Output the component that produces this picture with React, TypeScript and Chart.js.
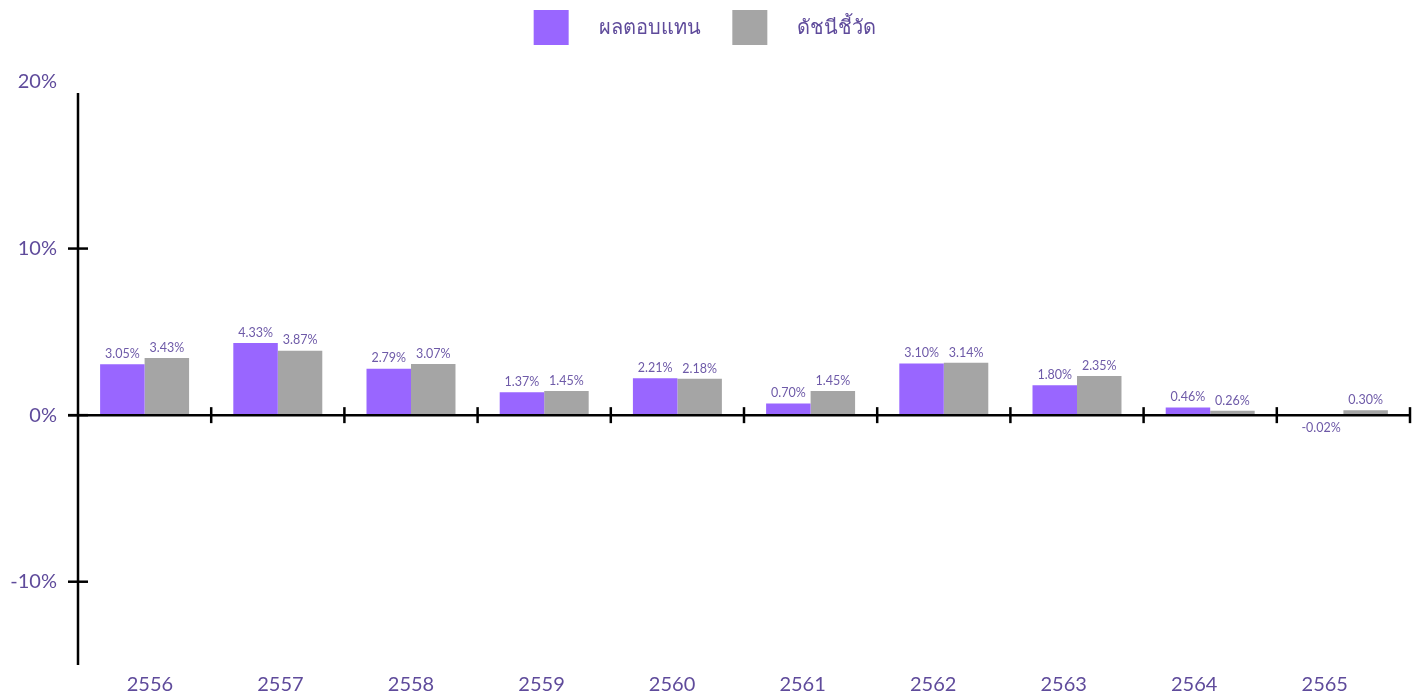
import React, { useEffect, useRef } from 'react';
import { Chart, registerables } from 'chart.js';

Chart.register(...registerables);

if (typeof document !== 'undefined') {
  document.body.style.margin = '0';
  document.body.style.overflow = 'hidden';
}

const years = ['2556', '2557', '2558', '2559', '2560', '2561', '2562', '2563', '2564', '2565'];
const returnValues = [3.05, 4.33, 2.79, 1.37, 2.21, 0.7, 3.1, 1.8, 0.46, -0.02];
const benchmarkValues = [3.43, 3.87, 3.07, 1.45, 2.18, 1.45, 3.14, 2.35, 0.26, 0.3];
const seriesNames = ['ผลตอบแทน', 'ดัชนีชี้วัด'];
const yTickValues = [-10, 0, 10, 20];

const FONT = "Lato, 'Noto Sans', 'DejaVu Sans', sans-serif";
const TEXT = '#5f4b9b';
const LABEL = '#6e5aa8';
const PURPLE = '#9966ff';
const GRAY = '#a5a5a5';

const layoutPlugin = {
  id: 'layoutTweaks',
  beforeLayout(chart: any) {
    const lg = chart.legend;
    if (lg && !lg.__patched) {
      const origFit = lg.fit.bind(lg);
      lg.fit = function () {
        origFit();
        this.height += 27;
      };
      lg.__patched = true;
    }
  },
  afterLayout(chart: any) {
    const x = chart.scales.x;
    const x2 = chart.scales.x2;
    if (!x || !x2) return;
    const catW = (x.right - x.left) / years.length;
    x2.left = x.left + catW * 0.54;
    x2.right = x.right - catW * 0.64;
    x2.configure();
    x2._labelItems = null;
  },
};

const axesPlugin = {
  id: 'customAxes',
  afterDatasetsDraw(chart: any) {
    const { ctx, chartArea, scales } = chart;
    const x = scales.x;
    const y = scales.y;
    const zero = y.getPixelForValue(0);
    ctx.save();
    ctx.strokeStyle = '#000';
    ctx.lineWidth = 2.5;
    ctx.beginPath();
    ctx.moveTo(chartArea.left, chartArea.top + 11);
    ctx.lineTo(chartArea.left, chartArea.bottom);
    ctx.stroke();
    ctx.beginPath();
    ctx.moveTo(chartArea.left - 10, zero);
    ctx.lineTo(chartArea.right, zero);
    ctx.stroke();
    yTickValues.forEach((v) => {
      if (v >= 20) return;
      const py = y.getPixelForValue(v);
      ctx.beginPath();
      ctx.moveTo(chartArea.left - 10, py);
      ctx.lineTo(chartArea.left + 10, py);
      ctx.stroke();
    });
    const catW = (x.right - x.left) / years.length;
    for (let i = 1; i <= years.length; i++) {
      const px = x.getPixelForValue(i - 1) + catW / 2;
      ctx.beginPath();
      ctx.moveTo(px, zero - 8);
      ctx.lineTo(px, zero + 8);
      ctx.stroke();
    }
    ctx.restore();
  },
};

const valueLabelPlugin = {
  id: 'valueLabels',
  afterDraw(chart: any) {
    const { ctx } = chart;
    ctx.save();
    ctx.font = `12.5px ${FONT}`;
    ctx.fillStyle = LABEL;
    ctx.textAlign = 'center';
    chart.data.datasets.forEach((ds: any, di: number) => {
      const meta = chart.getDatasetMeta(di);
      meta.data.forEach((el: any, i: number) => {
        const v = ds.data[i] as number;
        const text = v.toFixed(2) + '%';
        if (v >= 0) {
          ctx.textBaseline = 'bottom';
          ctx.fillText(text, el.x, el.y - 4);
        } else {
          ctx.textBaseline = 'top';
          ctx.fillText(text, el.x, el.y + 6);
        }
      });
    });
    ctx.restore();
  },
};

export default function App() {
  const canvasRef = useRef<HTMLCanvasElement | null>(null);

  useEffect(() => {
    const canvas = canvasRef.current;
    if (!canvas) return;
    const chart = new Chart(canvas, {
      type: 'bar',
      data: {
        labels: years,
        datasets: [
          {
            label: seriesNames[0],
            data: returnValues,
            backgroundColor: PURPLE,
            borderWidth: 0,
          },
          {
            label: seriesNames[1],
            data: benchmarkValues,
            backgroundColor: GRAY,
            borderWidth: 0,
          },
        ],
      },
      options: {
        animation: false,
        responsive: true,
        maintainAspectRatio: false,
        layout: { padding: { left: 0, right: 11, top: 0, bottom: 0 } },
        datasets: {
          bar: { barPercentage: 1.0, categoryPercentage: 0.668 },
        },
        plugins: {
          tooltip: { enabled: false },
          legend: {
            position: 'top',
            align: 'center',
            labels: {
              boxWidth: 35,
              boxHeight: 35,
              padding: 10,
              color: TEXT,
              font: { family: FONT, size: 20 },
              generateLabels(chart: any) {
                const items = Chart.defaults.plugins.legend.labels.generateLabels(chart);
                return items.map((it: any, i: number) => ({
                  ...it,
                  text:
                    '\u2003\u2005' + it.text + (i < items.length - 1 ? '\u2003\u2004' : ''),
                  lineWidth: 0,
                }));
              },
            },
          },
        },
        scales: {
          x: {
            display: false,
            grid: { display: false },
            border: { display: false },
          },
          x2: {
            type: 'category',
            labels: years,
            position: 'bottom',
            offset: false,
            grid: { display: false, drawTicks: false },
            border: { display: false },
            ticks: {
              color: TEXT,
              font: { family: FONT, size: 20 },
              padding: 8,
              maxRotation: 0,
              autoSkip: false,
            },
            afterFit(scale: any) {
              scale.height = 35;
              scale.paddingLeft = 0;
              scale.paddingRight = 0;
            },
          },
          y: {
            min: -15,
            max: 20,
            grid: { display: false, drawTicks: false },
            border: { display: false },
            ticks: {
              color: TEXT,
              font: { family: FONT, size: 20 },
              padding: 21,
              callback: (v: any) => `${v}%`,
            },
            afterBuildTicks(scale: any) {
              scale.ticks = yTickValues.map((v) => ({ value: v }));
            },
            afterFit(scale: any) {
              scale.width = 78;
            },
          },
        },
      } as any,
      plugins: [layoutPlugin, axesPlugin, valueLabelPlugin],
    });
    return () => chart.destroy();
  }, []);

  return (
    <div style={{ width: '100%', height: '700px', position: 'relative' }}>
      <canvas ref={canvasRef} />
    </div>
  );
}
